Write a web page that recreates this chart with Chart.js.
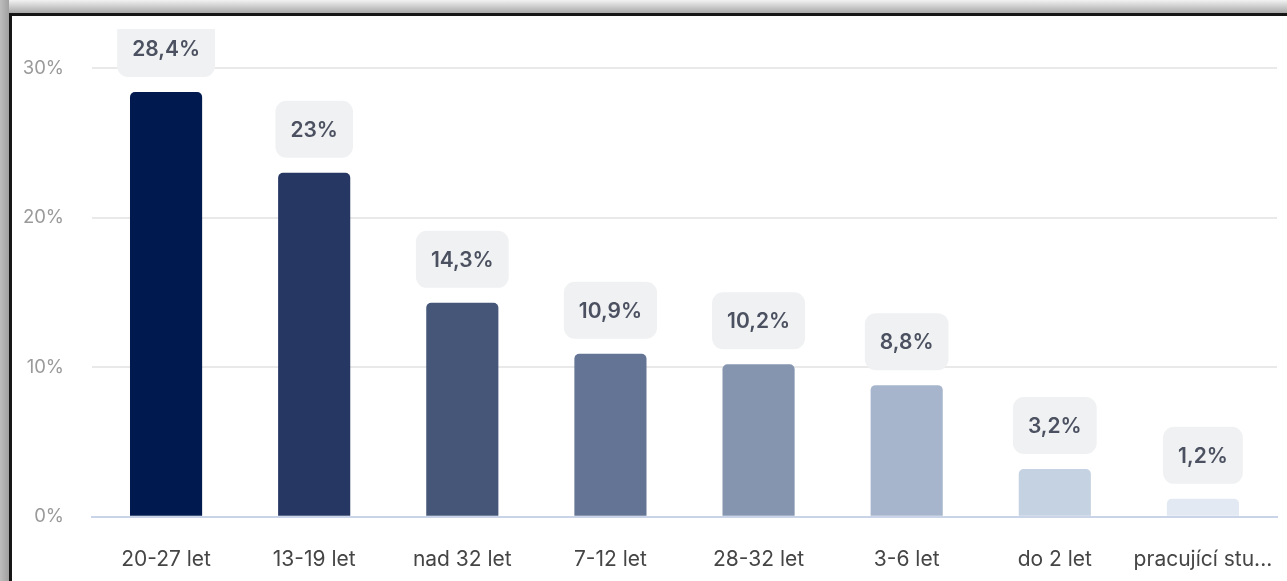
<!DOCTYPE html>
<html>
<head>
<meta charset="utf-8">
<script src="https://cdn.jsdelivr.net/npm/chart.js@4.4.1/dist/chart.umd.min.js"></script>
<style>
  html, body { margin: 0; padding: 0; background: #fff; }
  body { width: 1287px; height: 581px; position: relative; overflow: hidden; }
  .shadow-top { position: absolute; left: 0; top: 0; width: 1287px; height: 13px;
    background: linear-gradient(to bottom, #f2f2f2, #a8a8a8); }
  .shadow-left { position: absolute; left: 0; top: 0; width: 9px; height: 581px;
    background: linear-gradient(to right, #bdbdbd, #a0a0a0); }
  .frame { position: absolute; left: 9px; top: 13px; width: 1290px; height: 580px;
    border-top: 3px solid #161616; border-left: 3px solid #161616; background: #fff; }
  #wrap { position: absolute; left: 12px; top: 16px; width: 1275px; height: 578px; }
</style>
</head>
<body>
<div class="shadow-top"></div>
<div class="shadow-left"></div>
<div class="frame"></div>
<div id="wrap"><canvas id="chart"></canvas></div>
<script>
// Věkové skupiny a jejich podíly (%)
const categories = ['20-27 let', '13-19 let', 'nad 32 let', '7-12 let', '28-32 let', '3-6 let', 'do 2 let', 'pracující studenti'];
const values = [28.4, 23, 14.3, 10.9, 10.2, 8.8, 3.2, 1.2];
const barColors = ['#001a4f', '#263764', '#455679', '#647495', '#8595b0', '#a6b5cc', '#c5d2e2', '#e2e9f2'];
const yTicks = [0, 10, 20, 30];

const FONT = 'Inter, "Noto Sans", sans-serif';

// Popisky hodnot v zaoblených rámečcích nad sloupci
const valueBoxes = {
  id: 'valueBoxes',
  afterDatasetsDraw(chart) {
    const ctx = chart.ctx;
    const meta = chart.getDatasetMeta(0);
    ctx.save();
    ctx.beginPath();
    ctx.rect(0, 13, chart.width, chart.height);
    ctx.clip();
    ctx.font = '600 21px ' + FONT;
    ctx.textAlign = 'center';
    ctx.textBaseline = 'middle';
    meta.data.forEach((bar, i) => {
      const text = String(values[i]).replace('.', ',') + '%';
      const w = ctx.measureText(text).width + 30;
      const h = 57;
      const bottom = bar.y - 15;
      ctx.fillStyle = '#f0f1f2';
      ctx.beginPath();
      ctx.roundRect(bar.x - w / 2, bottom - h, w, h, 11);
      ctx.fill();
      ctx.fillStyle = '#4b5160';
      ctx.fillText(text, bar.x, bottom - h / 2 + 1);
    });
    ctx.restore();
  }
};

new Chart(document.getElementById('chart'), {
  type: 'bar',
  data: {
    labels: categories,
    datasets: [{
      data: values,
      backgroundColor: barColors,
      borderRadius: { topLeft: 5, topRight: 5 },
      borderSkipped: 'bottom',
      barPercentage: 1,
      categoryPercentage: 0.487
    }]
  },
  options: {
    responsive: true,
    maintainAspectRatio: false,
    animation: false,
    layout: { padding: { top: 52, right: 10, left: 0, bottom: 0 } },
    plugins: { legend: { display: false }, tooltip: { enabled: false } },
    scales: {
      x: {
        afterFit(axis) { axis.paddingLeft = 0; axis.paddingRight = 0; },
        grid: { display: false },
        border: { color: '#c9d4e8', width: 2 },
        ticks: {
          color: '#454545',
          font: { family: FONT, size: 21 },
          padding: 22,
          maxRotation: 0,
          autoSkip: false,
          callback(v) {
            const s = categories[v];
            return s.length > 13 ? s.slice(0, 13) + '...' : s;
          }
        }
      },
      y: {
        min: 0,
        max: 30,
        afterBuildTicks(axis) { axis.ticks = yTicks.map(v => ({ value: v })); },
        afterFit(axis) { axis.width = 80; },
        border: { display: false },
        grid: {
          color: (c) => c.tick && c.tick.value === 0 ? 'rgba(0,0,0,0)' : '#e9e9e9',
          lineWidth: 2,
          drawTicks: false
        },
        ticks: {
          color: '#9a9a9a',
          font: { family: FONT, size: 18.5 },
          padding: 28,
          callback: (v) => v + '%'
        }
      }
    }
  },
  plugins: [valueBoxes]
});
</script>
</body>
</html>
